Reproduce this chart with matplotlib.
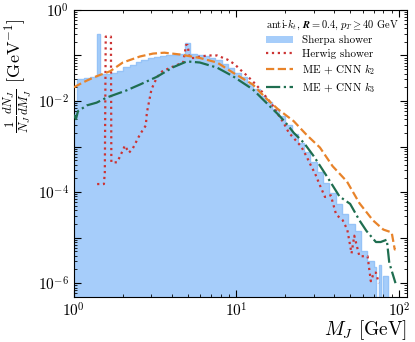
import matplotlib
matplotlib.use("Agg")
import matplotlib.pyplot as plt
import numpy as np

plt.rcParams['font.family'] = 'serif'
plt.rcParams['font.serif'] = ['cmr10', 'DejaVu Serif']
plt.rcParams['mathtext.fontset'] = 'cm'
plt.rcParams['axes.unicode_minus'] = False
plt.rcParams['axes.formatter.use_mathtext'] = True

# Sherpa shower histogram (bin edges, values)
sherpa_edges = [1.0, 1.05, 1.15, 1.25, 1.38, 1.45, 1.55, 1.7, 1.85, 2.0, 2.2, 2.4, 2.6, 2.85,
                3.1, 3.4, 3.7, 4.0, 4.4, 4.8, 5.2, 5.7, 6.2, 6.8, 7.4, 8.1, 8.9, 9.7, 10.6,
                11.6, 12.7, 13.9, 15.2, 16.6, 18.2, 19.9, 21.8, 23.8, 26.0, 28.5, 31.2, 34.1,
                37.3, 40.8, 44.6, 48.8, 53.4, 58.4, 63.9, 69.9, 72.5, 75.0, 77.0, 80.0, 85.0, 90.0]
sherpa_vals = [0.0093, 0.030, 0.032, 0.034, 0.30, 0.040, 0.040, 0.042, 0.045, 0.055, 0.062,
               0.072, 0.080, 0.088, 0.094, 0.098, 0.102, 0.104, 0.106, 0.19, 0.105, 0.102,
               0.096, 0.088, 0.078, 0.066, 0.052, 0.042, 0.033, 0.024, 0.018, 0.013, 0.0095,
               0.0068, 0.0046, 0.0030, 0.0019, 0.0012, 7.5e-4, 4.6e-4, 2.8e-4, 1.6e-4, 9.5e-5,
               5.5e-5, 3.3e-5, 2.0e-5, 1.4e-5, 5e-6, 3.0e-6, 2.3e-6, 1e-9, 2.5e-6, 1e-9,
               1.4e-6, 1e-9]

# Herwig shower
herwig_x = [1.39, 1.53, 1.55, 1.57, 1.69, 1.70, 1.84, 1.92, 2.06, 2.18, 2.3, 2.55, 2.77, 2.81,
            3.0, 3.24, 3.5, 4.07, 4.7, 4.9, 5.0, 5.15, 5.5, 6.0, 6.7, 7.6, 8.8, 9.7, 10.6,
            11.6, 12.6, 13.8, 15, 16.5, 18, 19.5, 21, 23, 25, 27, 28.5, 30.5, 32.6, 35, 38,
            41, 45, 48, 51, 53, 57, 61, 64, 67, 70, 72, 75]
herwig_y = [1.5e-4, 1.5e-4, 2.7e-4, 0.26, 0.26, 4.5e-4, 4.5e-4, 6e-4, 1.05e-3, 7.3e-4, 9e-4,
            1.85e-3, 2.9e-3, 5.5e-3, 0.018, 0.033, 0.045, 0.057, 0.07, 0.17, 0.17, 0.088,
            0.088, 0.095, 0.1, 0.1, 0.081, 0.065, 0.048, 0.036, 0.027, 0.019, 0.013, 0.0085,
            0.0051, 0.0033, 0.002, 0.0014, 0.001, 6e-4, 4e-4, 2.5e-4, 1.4e-4, 7.8e-5, 8.5e-5,
            3.2e-5, 2.4e-5, 1.5e-5, 4.5e-6, 1.1e-5, 3.9e-6, 3.9e-6, 3.9e-6, 1.1e-6, 1.7e-6,
            1.7e-6, 1e-6]

# ME + CNN k2
k2_x = [1.0, 1.1, 1.2, 1.38, 1.67, 2.0, 2.55, 3.07, 3.6, 4.5, 5.95, 7.6, 9.5, 12.6, 15, 18,
        22.5, 27, 32.6, 39, 47.8, 57, 69, 80, 90, 94, 95]
k2_y = [0.02, 0.024, 0.028, 0.035, 0.045, 0.07, 0.095, 0.11, 0.115, 0.105, 0.088, 0.07,
        0.042, 0.023, 0.012, 0.0066, 0.0036, 0.0018, 9.5e-4, 3.7e-4, 1.7e-4, 5.7e-5, 2.4e-5,
        1.5e-5, 1.3e-5, 5.5e-6, 5.5e-6]

# ME + CNN k3
k3_x = [1.0, 1.03, 1.06, 1.1, 1.2, 1.38, 1.6, 2.1, 2.55, 3.24, 4.07, 4.95, 5.95, 7.6, 9.5,
        12.6, 15, 18, 20, 22.5, 26, 30, 36, 43, 50, 57, 63, 72, 77, 84, 87, 95]
k3_y = [5e-3, 4e-3, 6e-3, 6.5e-3, 8e-3, 9.2e-3, 0.012, 0.017, 0.023, 0.034, 0.055, 0.074,
        0.07, 0.054, 0.035, 0.018, 0.0097, 0.0051, 0.0034, 0.002, 0.0012, 6e-4, 2.2e-4,
        8e-5, 5.5e-5, 2.4e-5, 1.4e-5, 8e-6, 8e-6, 9e-6, 2.8e-6, 1e-6]

fig = plt.figure(figsize=(4.15, 3.42), dpi=100)
ax = fig.add_axes([0.178, 0.132, 0.803, 0.839])

ax.stairs(sherpa_vals, sherpa_edges, fill=True, baseline=1e-9, color='#a6cdfa',
          label='Sherpa shower', zorder=1)
ax.stairs(sherpa_vals, sherpa_edges, fill=False, baseline=1e-9, color='#96c3f7',
          linewidth=1.0, zorder=1)
ax.plot(herwig_x, herwig_y, linestyle=':', color='#cc3333', linewidth=1.6,
        label='Herwig shower', zorder=3)
ax.plot(k2_x, k2_y, linestyle='--', color='#e8832a', linewidth=1.6,
        label=r'ME + CNN $k_2$', zorder=3)
ax.plot(k3_x, k3_y, linestyle='-.', color='#1f6e50', linewidth=1.6,
        label=r'ME + CNN $k_3$', zorder=4)

ax.set_xscale('log')
ax.set_yscale('log')
ax.set_xlim(1, 112)
ax.set_ylim(5e-7, 1)

ax.tick_params(which='both', direction='in', top=True, right=True, labelsize=11)
ax.tick_params(which='major', length=5)
ax.tick_params(which='minor', length=2.5)
ax.yaxis.set_major_locator(matplotlib.ticker.LogLocator(base=10, numticks=20))
ax.yaxis.set_major_formatter(matplotlib.ticker.FuncFormatter(
    lambda v, p: (r'$10^{%d}$' % round(np.log10(v))) if round(np.log10(v)) % 2 == 0 else ''))
ax.xaxis.set_minor_formatter(matplotlib.ticker.NullFormatter())
ax.yaxis.set_minor_formatter(matplotlib.ticker.NullFormatter())

ax.set_xlabel(r'$M_J$ [GeV]', fontsize=14, ha='right', va='top')
ax.xaxis.set_label_coords(1.0, -0.075)
ax.set_ylabel(r'$\frac{1}{N_J}\frac{dN_J}{dM_J}$ [GeV$^{-1}$]', fontsize=13, ha='right', va='bottom')
ax.yaxis.set_label_coords(-0.12, 0.97)

leg = ax.legend(loc='upper right', frameon=False, fontsize=8,
                title=r'anti-$\boldsymbol{k_t}$, $\boldsymbol{R} = \mathbf{0.4},\, \boldsymbol{p_T} \geq \mathbf{40}$ GeV',
                title_fontproperties={'size': 7.5, 'weight': 'bold'},
                handlelength=2.4, borderaxespad=0.3, labelspacing=0.3)
leg._legend_box.align = 'left'

fig.savefig('out.png', dpi=100)
